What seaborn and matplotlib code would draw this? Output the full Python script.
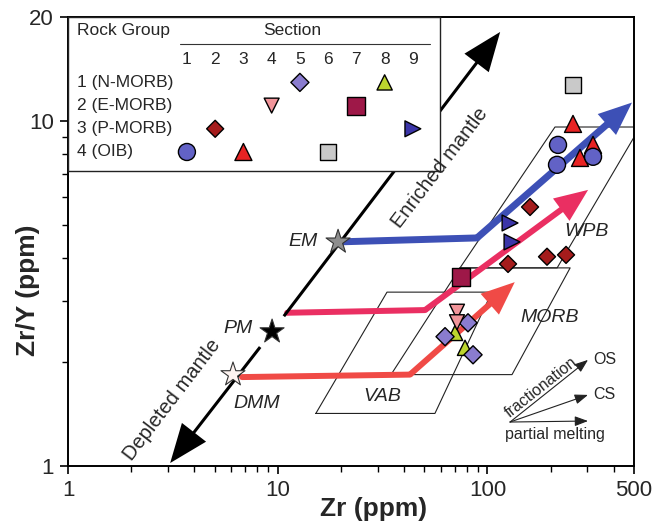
import pandas as pd
import seaborn as sns
import matplotlib.pyplot as plt
from matplotlib.ticker import FixedLocator, FixedFormatter, NullFormatter

# sample points: Zr (ppm), Zr/Y and the section each one belongs to
sample_section = [3, 3, 3, 1, 1, 1, 6, 2, 2, 2, 2, 9, 9, 7, 8, 8, 5, 5, 5, 4, 4]
sample_zr = [255.9, 276.4, 318.9, 217.1, 214.7, 318.9, 255.9, 159.7, 125.4, 192.4, 237.1,
             128.2, 131.0, 74.8, 70.1, 78.2, 80.8, 62.8, 85.4, 71.6, 71.6]
sample_zry = [9.80, 7.81, 8.52, 8.52, 7.46, 7.87, 12.72, 5.63, 3.85, 4.04, 4.09,
              5.06, 4.46, 3.53, 2.43, 2.20, 2.60, 2.37, 2.10, 2.80, 2.61]

# section -> rock group, marker, colour, marker area
sections = [1, 2, 3, 4, 5, 6, 7, 8, 9]
section_group = [4, 3, 4, 2, 1, 4, 2, 1, 3]
section_marker = ['o', 'D', '^', 'v', 'D', 's', 's', '^', '>']
section_color = ['#6262c6', '#a51c1c', '#e82323', '#f2959a', '#8a7ccf',
                 '#c9c9c9', '#9e1848', '#bcd52e', '#3b35a8']
section_size = [150, 75, 150, 115, 85, 130, 165, 120, 130]
group_labels = ['1 (N-MORB)', '2 (E-MORB)', '3 (P-MORB)', '4 (OIB)']

# mantle end-members
mantle_names = ['EM', 'PM', 'DMM']
mantle_zr = [19.4, 9.4, 6.12]
mantle_zry = [4.46, 2.45, 1.84]
mantle_color = ['#8e8e8e', '#000000', '#fdf3f0']
mantle_label_zr = [13.2, 6.47, 7.96]
mantle_label_zry = [4.46, 2.51, 1.52]

# ends of the mantle array
enriched_tip = (115, 18.1)
depleted_tip = (3.07, 1.02)

# source trends (horizontal, then up the array)
trend_zr = [[19.4, 89.2, 489], [11.1, 50.4, 302], [6.76, 42.7, 135]]
trend_zry = [[4.46, 4.58, 11.3], [2.78, 2.83, 6.31], [1.81, 1.84, 3.41]]
trend_color = ['#3d50b6', '#ea2f62', '#f04a46']
trend_width = [5.0, 4.3, 4.3]

# tectonic fields
field_names = ['VAB', 'MORB', 'WPB']
field_zr = [[15.2, 56.2, 105, 33.2], [34.7, 131, 248, 74.0], [74.0, 215, 534, 210]]
field_zry = [[1.42, 1.42, 3.19, 3.19], [1.84, 1.84, 3.75, 3.75], [3.75, 3.75, 9.6, 9.6]]
field_label_zr = [31.4, 199, 298]
field_label_zry = [1.585, 2.70, 4.77]

# process vectors (lower right)
vector_origin = (128.2, 1.341)
vector_names = ['OS', 'CS', '']
vector_end_zr = [301.8, 301.8, 301.8]
vector_end_zry = [2.03, 1.607, 1.35]

sns.set_style("ticks")
plt.rcParams['font.family'] = ['Liberation Sans', 'DejaVu Sans']

fig = plt.figure(figsize=(6.65, 5.24), dpi=100)
ax = fig.add_axes([68 / 665, 58 / 524, 566 / 665, 449 / 524])
ax.set_xscale('log')
ax.set_yscale('log')
ax.set_xlim(1, 500)
ax.set_ylim(1, 20)

# fields
for zr, zry, name, lx, ly in zip(field_zr, field_zry, field_names, field_label_zr, field_label_zry):
    ax.plot(zr + zr[:1], zry + zry[:1], color='#222222', lw=0.8, zorder=1)
    ax.text(lx, ly, name, fontsize=14, style='italic', ha='center', va='center', zorder=3)

# mantle array (double arrow broken at PM)
for tip in [enriched_tip, depleted_tip]:
    ax.annotate('', xy=tip, xytext=(mantle_zr[1], mantle_zry[1]),
                arrowprops=dict(arrowstyle='simple,head_length=1.4,head_width=1.1,tail_width=0.11',
                                fc='black', ec='none', lw=0, shrinkA=14, shrinkB=0,
                                mutation_scale=20), zorder=2.5)

# source trends
for zr, zry, c, w in zip(trend_zr, trend_zry, trend_color, trend_width):
    ax.plot(zr[:2], zry[:2], color=c, lw=w, solid_capstyle='round', zorder=2)
    tw = w / 20
    ax.annotate('', xy=(zr[2], zry[2]), xytext=(zr[1], zry[1]),
                arrowprops=dict(arrowstyle=f'simple,head_length=1.2,head_width=1.0,tail_width={tw}',
                                fc=c, ec='none', lw=0, shrinkA=0, shrinkB=0,
                                mutation_scale=20), zorder=2)

# mantle stars
mantle_df = pd.DataFrame({'Zr': mantle_zr, 'ZrY': mantle_zry, 'name': mantle_names})
sns.scatterplot(data=mantle_df, x='Zr', y='ZrY', hue='name', palette=dict(zip(mantle_names, mantle_color)),
                marker='*', s=330, edgecolor='#333333', linewidth=0.8, legend=False, ax=ax, zorder=4)
for name, lx, ly in zip(mantle_names, mantle_label_zr, mantle_label_zry):
    ax.text(lx, ly, name, fontsize=14, style='italic', ha='center', va='center', zorder=3)

ax.text(59.4, 7.31, 'Enriched mantle', fontsize=14.5, rotation=52.6, rotation_mode='anchor',
        ha='center', va='center', zorder=6)
ax.text(3.13, 1.55, 'Depleted mantle', fontsize=14.5, rotation=52.6, rotation_mode='anchor',
        ha='center', va='center', zorder=3)

# samples
sec_key = [f'S{s}' for s in sections]
palette = dict(zip(sec_key, section_color))
markers = dict(zip(sec_key, section_marker))
sizes = dict(zip(sec_key, section_size))
samples = pd.DataFrame({'Zr': sample_zr, 'ZrY': sample_zry,
                        'section': [f'S{s}' for s in sample_section]})
sns.scatterplot(data=samples, x='Zr', y='ZrY', hue='section', style='section', size='section',
                palette=palette, markers=markers, sizes=sizes, hue_order=sec_key,
                edgecolor='black', linewidth=1, legend=False, ax=ax, zorder=4)

# process vectors
for name, ex, ey in zip(vector_names, vector_end_zr, vector_end_zry):
    ax.annotate('', xy=(ex, ey), xytext=vector_origin,
                arrowprops=dict(arrowstyle='-|>,head_length=0.8,head_width=0.3', color='#222222',
                                lw=0.8, shrinkA=0, shrinkB=0, mutation_scale=10), zorder=3)
    if name:
        ax.text(ex * 1.06, ey, name, fontsize=11.5, ha='left', va='center')
ax.text(180.1, 1.694, 'fractionation', fontsize=11.5, rotation=38.4, rotation_mode='anchor',
        ha='center', va='center')
ax.text(210.1, 1.23, 'partial melting', fontsize=11.5, ha='center', va='center')

# axes styling
ax.xaxis.set_major_locator(FixedLocator([1, 10, 100, 500]))
ax.xaxis.set_major_formatter(FixedFormatter(['1', '10', '100', '500']))
ax.xaxis.set_minor_locator(FixedLocator([2, 3, 4, 5, 6, 7, 8, 9, 20, 30, 40, 50, 60, 70, 80, 90,
                                         200, 300, 400]))
ax.xaxis.set_minor_formatter(NullFormatter())
ax.yaxis.set_major_locator(FixedLocator([1, 10, 20]))
ax.yaxis.set_major_formatter(FixedFormatter(['1', '10', '20']))
ax.yaxis.set_minor_locator(FixedLocator([2, 3, 4, 5, 6, 7, 8, 9]))
ax.yaxis.set_minor_formatter(NullFormatter())
ax.tick_params(which='major', direction='out', length=6, width=1.2, labelsize=16, color='black', pad=4)
ax.tick_params(which='minor', direction='out', length=4, width=1.0, color='black')
for sp in ax.spines.values():
    sp.set_color('black')
    sp.set_linewidth(1.4)

ax.set_xlabel('Zr (ppm)', fontsize=19, fontweight='bold')
ax.set_ylabel('Zr/Y (ppm)', fontsize=19, fontweight='bold')
ax.xaxis.set_label_coords(0.54, -0.095)
ax.xaxis.label.set_va('center')
ax.yaxis.set_label_coords(-0.071, 0.392)
ax.yaxis.label.set_va('center')

# legend table (inset box)
leg = ax.inset_axes([0, 1 - 154 / 449, 372 / 566, 154 / 449])
leg.set_zorder(5)
leg.set_facecolor('white')
leg.set_xlim(-3.21, 9.96)
leg.set_ylim(4.82, -1.82)
leg.set_xticks([])
leg.set_yticks([])
for sp in leg.spines.values():
    sp.set_color('#222222')
    sp.set_linewidth(1.0)

legend_df = pd.DataFrame({'section': sections, 'group': section_group, 'key': sec_key})
sns.scatterplot(data=legend_df, x='section', y='group', hue='key', style='key', size='key',
                palette=palette, markers=markers, sizes=sizes, hue_order=sec_key,
                edgecolor='black', linewidth=1, legend=False, ax=leg)
leg.set_xlabel('')
leg.set_ylabel('')
leg.text(-2.89, -1.22, 'Rock Group', fontsize=12.5, ha='left', va='center')
leg.text(4.72, -1.22, 'Section', fontsize=12.5, ha='center', va='center')
leg.plot([0.75, 9.6], [-0.66, -0.66], color='#333333', lw=0.8)
for s in sections:
    leg.text(s, 0, str(s), fontsize=12.5, ha='center', va='center')
for g, lab in enumerate(group_labels, start=1):
    leg.text(-2.89, g, lab, fontsize=12.5, ha='left', va='center')

fig.savefig('out.png', dpi=100)
plt.close(fig)
